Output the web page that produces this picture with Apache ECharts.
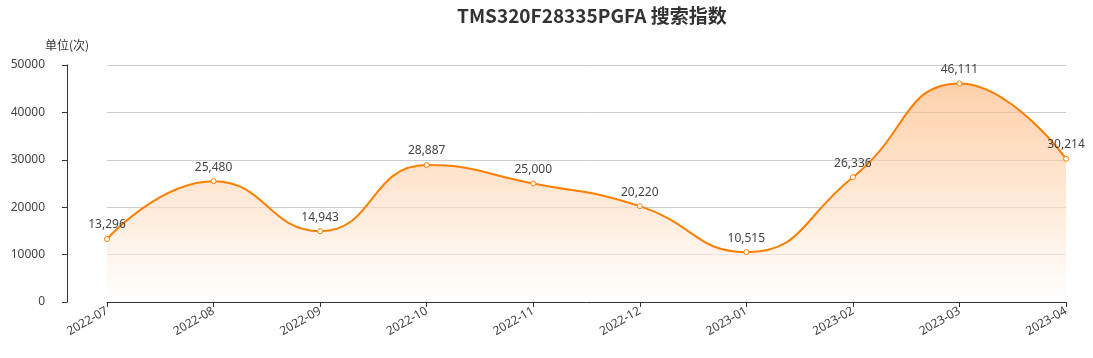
<!DOCTYPE html>
<html><head><meta charset="utf-8">
<script src="https://cdn.jsdelivr.net/npm/echarts@6/dist/echarts.min.js"></script>
<style>html,body{margin:0;padding:0;background:#fff}#c{width:1093px;height:358px}</style>
</head><body><div id="c"></div>
<script>
const categories = ['2022-07','2022-08','2022-09','2022-10','2022-11','2022-12','2023-01','2023-02','2023-03','2023-04'];
const values = [13296,25480,14943,28887,25000,20220,10515,26336,46111,30214];
const yTicks = [0,10000,20000,30000,40000,50000];
const chart = echarts.init(document.getElementById('c'));
chart.setOption({
  animation:false,
  title:{text:'TMS320F28335PGFA 搜索指数',left:457,top:6,padding:[0,0,0,0],
    textStyle:{fontSize:19,fontWeight:'bold',color:'#333',fontFamily:'Noto Sans CJK SC'}},
  grid:{left:107,right:27,top:65,bottom:56},
  xAxis:{type:'category',data:categories,boundaryGap:false,
    axisLine:{lineStyle:{color:'#333'}},axisTick:{show:true,alignWithLabel:true,lineStyle:{color:'#333'}},
    axisLabel:{rotate:30,color:'#444',fontSize:12,interval:0,margin:8,fontFamily:'Noto Sans'}},
  yAxis:{type:'value',min:yTicks[0],max:yTicks[yTicks.length-1],interval:10000,offset:40,
    name:'单位(次)',nameGap:14,nameTextStyle:{color:'#333',fontSize:12,align:'center',fontFamily:'Noto Sans CJK SC'},
    axisLine:{show:true,lineStyle:{color:'#333'}},axisTick:{show:true,lineStyle:{color:'#333'}},
    axisLabel:{color:'#444',fontSize:12,margin:22,fontFamily:'Noto Sans',formatter:v=>String(v)},
    splitLine:{lineStyle:{color:'#ccc'}}},
  series:[{type:'line',data:values,smooth:true,symbol:'circle',symbolSize:5,
    itemStyle:{color:'#fff',borderColor:'#ff7f00',borderWidth:1},
    lineStyle:{color:'#ff7f00',width:2},
    label:{show:true,position:'top',color:'#444',fontSize:12,fontFamily:'Noto Sans',
      formatter:p=>p.value.toLocaleString('en-US')},
    areaStyle:{color:new echarts.graphic.LinearGradient(0,0,0,1,[{offset:0,color:'rgba(253,180,120,0.9)'},{offset:1,color:'rgba(255,255,255,0.9)'}]),origin:'start'}
  }]
});
</script></body></html>
